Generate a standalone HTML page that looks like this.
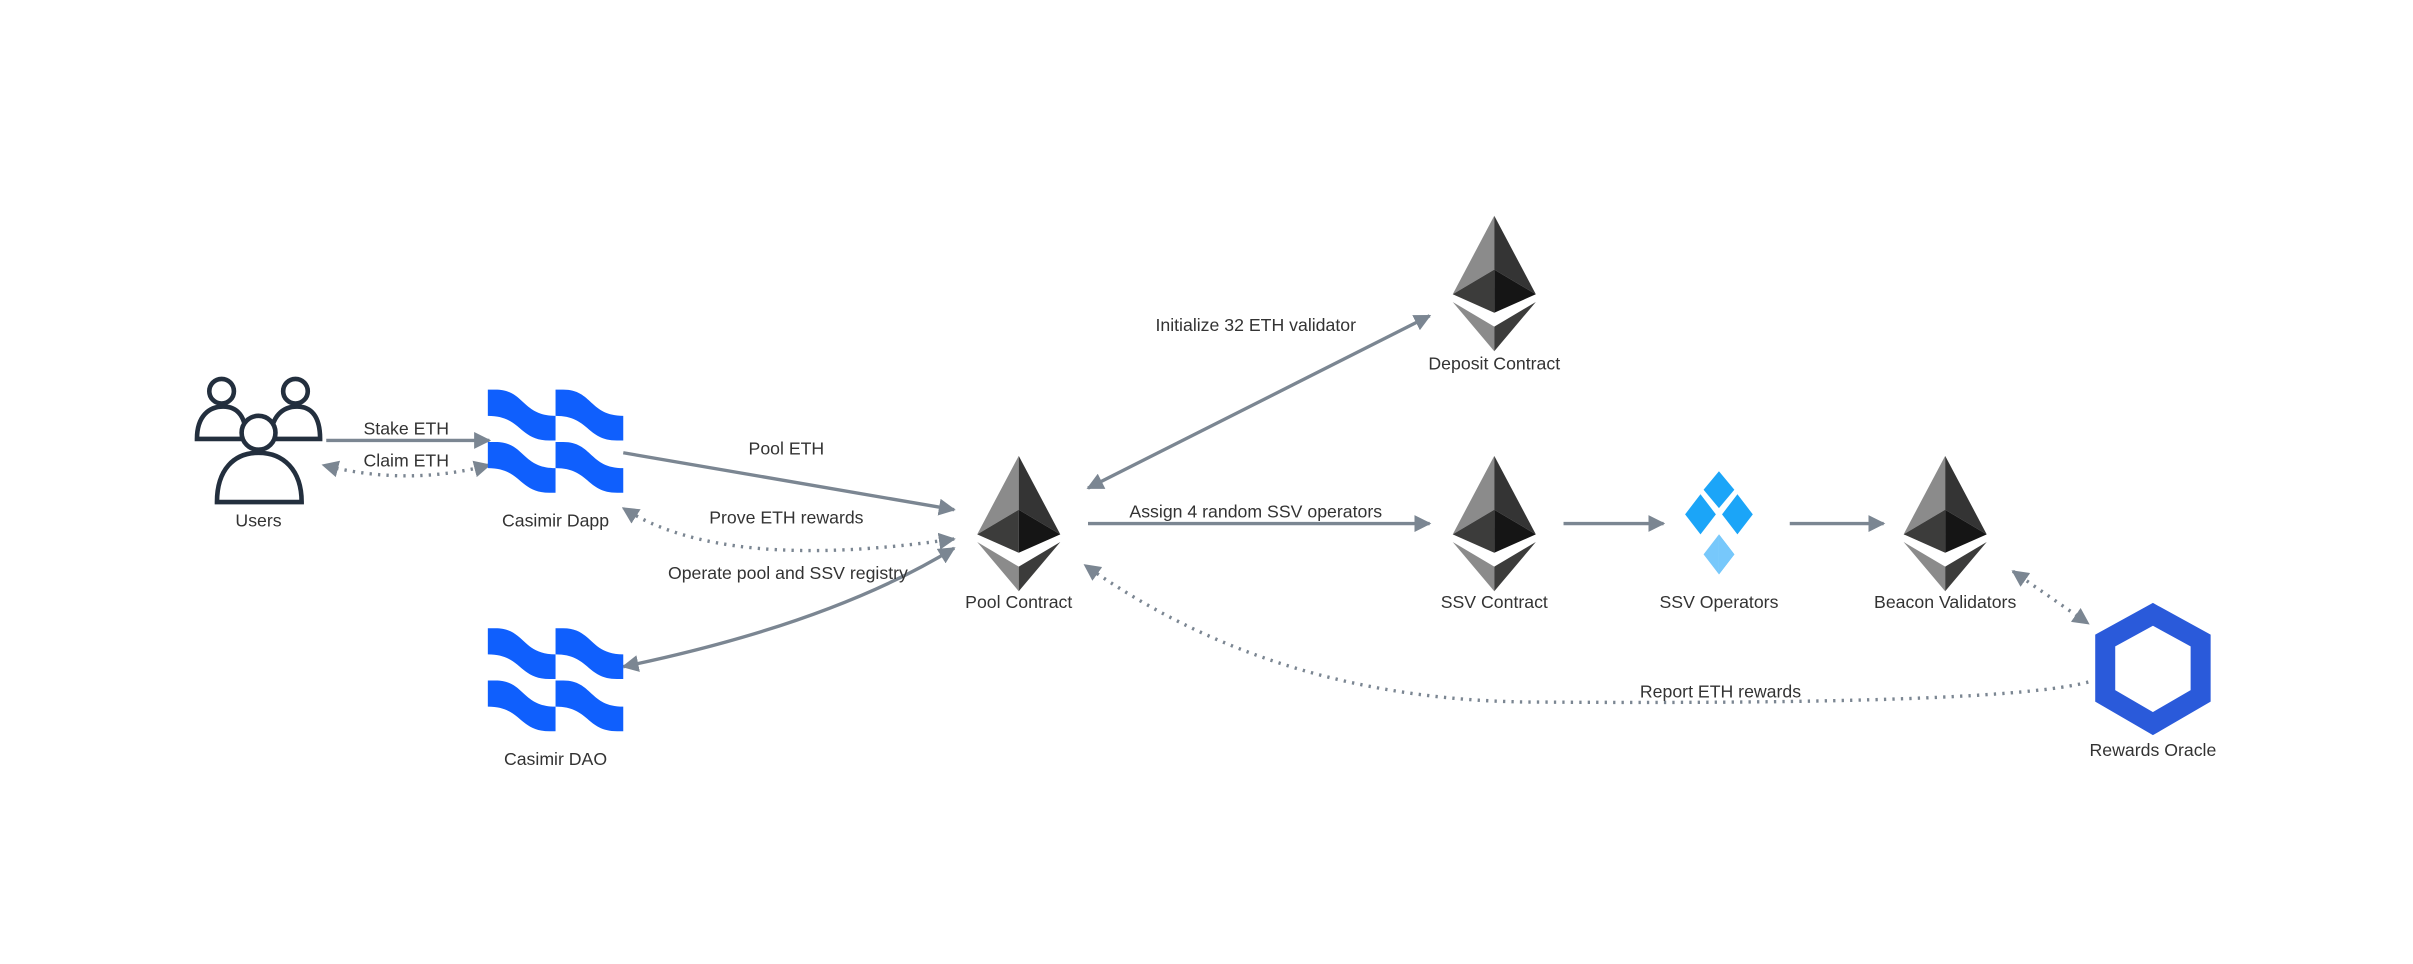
<!DOCTYPE html>
<html><head><meta charset="utf-8"><style>
html,body{margin:0;padding:0;background:#fff;}
svg{display:block;}
text{font-family:"Liberation Sans",sans-serif;font-size:11.5px;fill:#333;text-anchor:middle;}
</style></head><body>
<svg width="2413" height="964" viewBox="0 0 1568 626" xmlns="http://www.w3.org/2000/svg">
<defs>
<marker id="a" viewBox="0 0 10 10" refX="9" refY="5" markerWidth="5" markerHeight="5" orient="auto-start-reverse" markerUnits="strokeWidth">
<path d="M0,0 L10,5 L0,10 z" fill="#7b8692"/></marker>
<g id="eth">
<polygon points="27,0 0,51 27,35" fill="#8b8b8b"/>
<polygon points="27,0 54,51 27,35" fill="#343434"/>
<polygon points="0,51 27,35 27,63" fill="#3c3c3b"/>
<polygon points="54,51 27,35 27,63" fill="#151515"/>
<polygon points="0,56 27,88 27,72" fill="#8b8b8b"/>
<polygon points="54,56 27,88 27,72" fill="#3c3c3b"/>
</g>
<path id="tile" d="M0,0 L5,0 C24,0 22,17 44,17 L44,33 L40,33 C20,33 22,17 0,17 Z" fill="#0f5ffd"/>
<g id="cas">
<use href="#tile" x="0" y="0"/><use href="#tile" x="44" y="0"/>
<use href="#tile" x="0" y="34"/><use href="#tile" x="44" y="34"/>
</g>
</defs>
<g fill="none" stroke="#7b8692" stroke-width="2.2">
<line x1="212" y1="286" x2="318" y2="286" marker-end="url(#a)"/>
<path d="M318,302 Q264,316 210,302" stroke-dasharray="1.5 4" marker-start="url(#a)" marker-end="url(#a)"/>
<line x1="405" y1="294" x2="620" y2="331" marker-end="url(#a)"/>
<path d="M620,350 Q470,372 405,330" stroke-dasharray="1.5 4" marker-start="url(#a)" marker-end="url(#a)"/>
<path d="M620,356 Q540,405 405,433" marker-start="url(#a)" marker-end="url(#a)"/>
<line x1="707" y1="317" x2="929" y2="205" marker-start="url(#a)" marker-end="url(#a)"/>
<line x1="707" y1="340" x2="929" y2="340" marker-end="url(#a)"/>
<line x1="1016" y1="340" x2="1081" y2="340" marker-end="url(#a)"/>
<line x1="1163" y1="340" x2="1224" y2="340" marker-end="url(#a)"/>
<line x1="1308" y1="371" x2="1357" y2="405" stroke-dasharray="1.5 4" marker-start="url(#a)" marker-end="url(#a)"/>
<path d="M1357,443 Q1300,458 1000,456 Q830,456 705,367" stroke-dasharray="1.5 4" marker-end="url(#a)"/>
</g>
<!-- users -->
<g fill="#fff" stroke="#232f3e" stroke-width="3">
<path d="M128,285 C128,270 136,264 145,264 C154,264 160,270 160,285 Z"/>
<circle cx="144" cy="254" r="8"/>
<path d="M176,285 C176,270 184,264 193,264 C202,264 208,270 208,285 Z"/>
<circle cx="192" cy="254" r="8"/>
<path d="M141,326 C141,305 152,294 168,294 C184,294 196,305 196,326 Z"/>
<circle cx="168" cy="281" r="11"/>
</g>
<text x="168" y="342">Users</text>
<use href="#cas" x="317" y="253"/>
<text x="361" y="342">Casimir Dapp</text>
<use href="#cas" x="317" y="408"/>
<text x="361" y="497">Casimir DAO</text>
<use href="#eth" x="635" y="296"/>
<text x="662" y="395">Pool Contract</text>
<use href="#eth" x="944" y="140"/>
<text x="971" y="240">Deposit Contract</text>
<use href="#eth" x="944" y="296"/>
<text x="971" y="395">SSV Contract</text>
<use href="#eth" x="1237" y="296"/>
<text x="1264" y="395">Beacon Validators</text>
<g fill="#1ba5f8">
<polygon points="1117,306 1127,318 1117,330 1107,318"/>
<polygon points="1105,321 1115,334 1105,347 1095,334"/>
<polygon points="1129,321 1139,334 1129,347 1119,334"/>
<polygon points="1117,347 1127,360 1117,373" />
<polygon points="1117,347 1107,360 1117,373" fill="#77c8fb"/>
<polygon points="1117,347 1127,360 1117,373" fill="#77c8fb"/>
</g>
<text x="1117" y="395">SSV Operators</text>
<polygon points="1399,399 1430,416 1430,452 1399,470 1368,452 1368,416" fill="none" stroke="#2a5ada" stroke-width="13"/>
<text x="1399" y="491">Rewards Oracle</text>
<text x="264" y="282">Stake ETH</text>
<text x="264" y="303">Claim ETH</text>
<text x="511" y="295">Pool ETH</text>
<text x="511" y="340">Prove ETH rewards</text>
<text x="512" y="376">Operate pool and SSV registry</text>
<text x="816" y="215">Initialize 32 ETH validator</text>
<text x="816" y="336">Assign 4 random SSV operators</text>
<text x="1118" y="453">Report ETH rewards</text>
</svg>
</body></html>
